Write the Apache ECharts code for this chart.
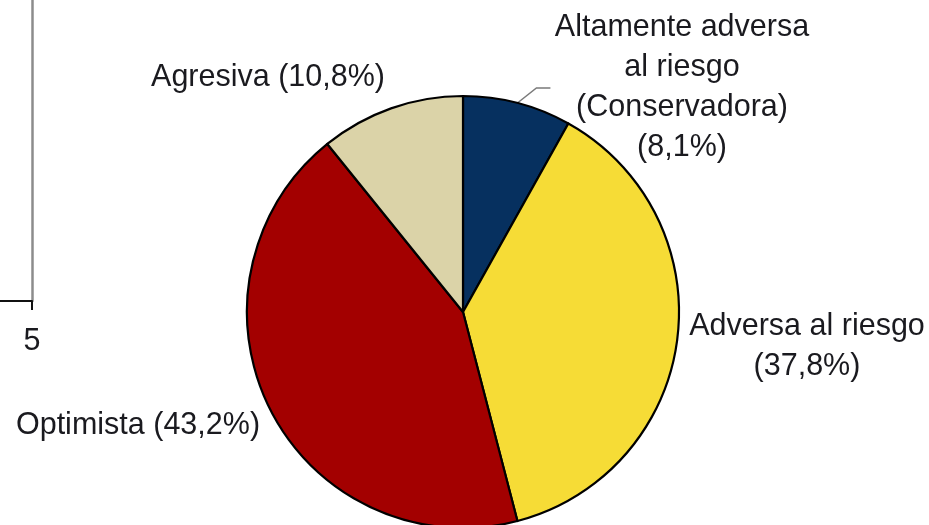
<!DOCTYPE html>
<html>
<head>
<meta charset="utf-8">
<script src="https://cdn.jsdelivr.net/npm/echarts@6/dist/echarts.min.js"></script>
<style>
  html, body { margin: 0; padding: 0; background: #ffffff; }
  #chart { width: 929px; height: 525px; }
</style>
</head>
<body>
<div id="chart"></div>
<script>
// Risk attitude categories, clockwise from 12 o'clock
const categories = [
  'Altamente adversa\nal riesgo\n(Conservadora)',
  'Adversa al riesgo',
  'Optimista',
  'Agresiva'
];
// Share of respondents, %
const shares = [8.1, 37.8, 43.2, 10.8];
// Slice fill colours
const sliceColors = ['#06305f', '#f6dc36', '#a30000', '#dbd3a8'];
// Tick labels of the neighbouring panel's x axis
const xTickLabels = ['0', '5'];

// Whether the percentage goes on its own line under the name
const stackedLabel = [true, true, false, false];
// Label block centres
const labelCentres = [[682, 88], [807, 347], [138, 426], [268, 78]];

const fmtPct = v => v.toFixed(1).replace('.', ',') + '%';

const chart = echarts.init(document.getElementById('chart'), null, { renderer: 'canvas' });

const textStyle = {
  fontFamily: '"Liberation Sans", Arial, sans-serif',
  fontSize: 30.5,
  color: '#1a1a1f'
};

chart.setOption({
  animation: false,
  backgroundColor: '#ffffff',
  grid: {
    left: -100,
    right: 929 - 32,
    top: -10,
    bottom: 525 - 301,
    containLabel: false,
    outerBoundsMode: 'none'
  },
  xAxis: {
    type: 'value',
    min: Number(xTickLabels[0]),
    max: Number(xTickLabels[1]),
    interval: Number(xTickLabels[1]) - Number(xTickLabels[0]),
    axisLine: { show: true, onZero: false, lineStyle: { color: '#111111', width: 2 } },
    axisTick: { show: true, length: 9, lineStyle: { color: '#111111', width: 2 } },
    axisLabel: {
      showMinLabel: false,
      margin: 25,
      fontFamily: textStyle.fontFamily,
      fontSize: textStyle.fontSize,
      color: textStyle.color
    },
    splitLine: { show: false }
  },
  yAxis: {
    type: 'value',
    position: 'right',
    min: 0,
    max: 1,
    axisLine: { show: true, onZero: false, lineStyle: { color: '#8c8c8c', width: 2.5 } },
    axisTick: { show: false },
    axisLabel: { show: false },
    splitLine: { show: false }
  },
  series: [
    { type: 'line', data: [], silent: true },
    {
      type: 'pie',
      center: [463, 312],
      radius: 216,
      startAngle: 90,
      clockwise: true,
      avoidLabelOverlap: false,
      silent: true,
      itemStyle: { borderColor: '#000000', borderWidth: 2.2 },
      label: {
        show: true,
        position: 'outside',
        align: 'center',
        lineHeight: 40,
        fontFamily: textStyle.fontFamily,
        fontSize: textStyle.fontSize,
        color: textStyle.color,
        formatter: p => p.name + (stackedLabel[p.dataIndex] ? '\n' : ' ') + '(' + fmtPct(p.value) + ')'
      },
      labelLine: { show: false },
      labelLayout: params => {
        const i = params.dataIndex;
        const out = {
          x: labelCentres[i][0],
          y: labelCentres[i][1],
          align: 'center',
          verticalAlign: 'middle'
        };
        if (i === 0 && params.labelLinePoints) {
          const p0 = params.labelLinePoints[0];
          out.labelLinePoints = [
            [p0[0], p0[1]],
            [p0[0] + 19, p0[1] - 15],
            [p0[0] + 33, p0[1] - 15]
          ];
        }
        return out;
      },
      data: categories.map((name, i) => ({
        name,
        value: shares[i],
        itemStyle: { color: sliceColors[i] },
        labelLine: i === 0
          ? { show: true, length: 15, length2: 14, smooth: false, lineStyle: { color: '#7a7a7a', width: 1.5 } }
          : { show: false }
      }))
    }
  ]
});
</script>
</body>
</html>
